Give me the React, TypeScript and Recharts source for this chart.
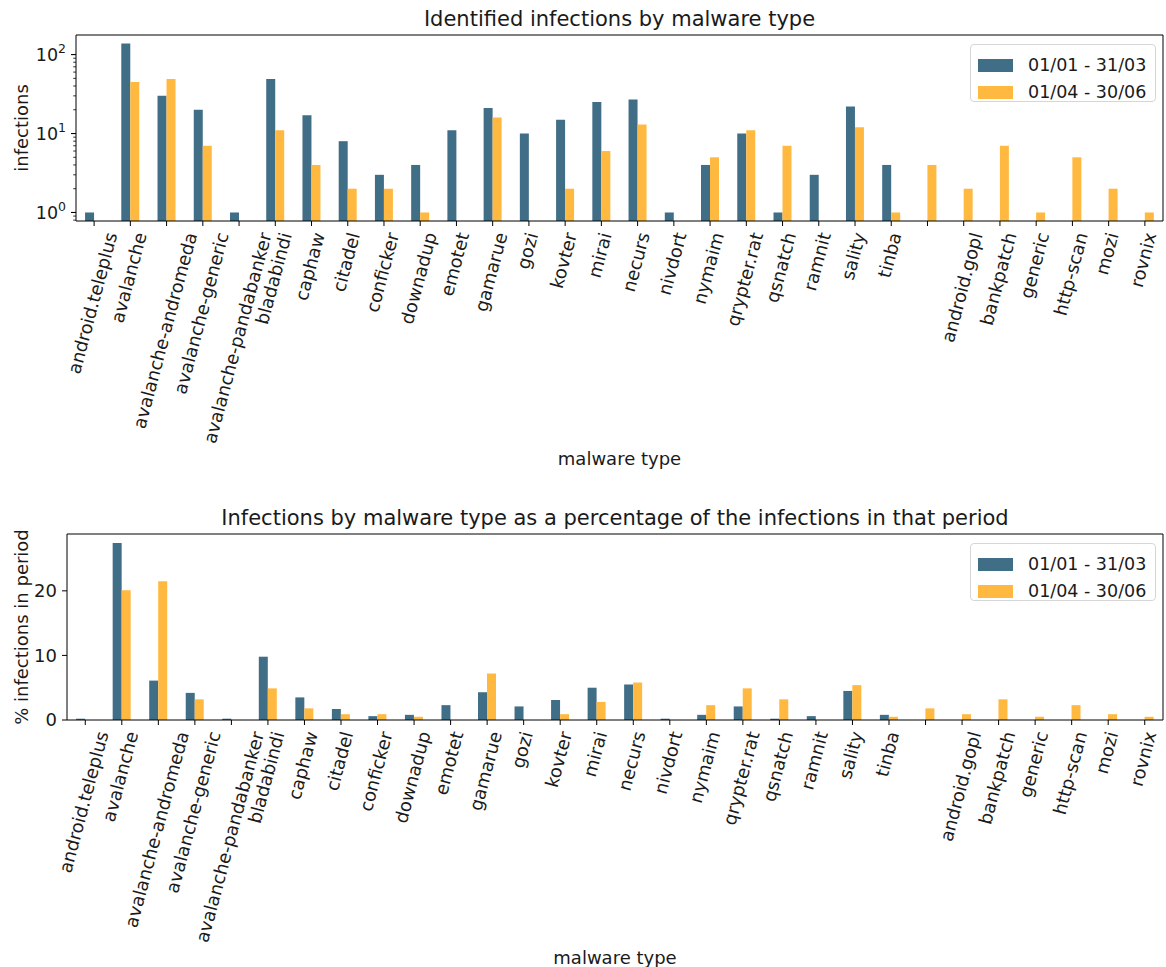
import React from "react";
import { BarChart, Bar, XAxis, YAxis, Legend, Label } from "recharts";

// malware families (the blank one is an unnamed family in the source data)
const malwareTypes = [
  "android.teleplus", "avalanche", "avalanche-andromeda", "avalanche-generic",
  "avalanche-pandabanker", "bladabindi", "caphaw", "citadel", "conficker",
  "downadup", "emotet", "gamarue", "gozi", "kovter", "mirai", "necurs",
  "nivdort", "nymaim", "qrypter.rat", "qsnatch", "ramnit", "sality", "tinba",
  "", "android.gopl", "bankpatch", "generic", "http-scan", "mozi", "rovnix",
];

const periods = ["01/01 - 31/03", "01/04 - 30/06"];

// number of infections
const countsQ1 = [1, 138, 30, 20, 1, 49, 17, 8, 3, 4, 11, 21, 10, 15, 25, 27, 1, 4, 10, 1, 3, 22, 4, 0, 0, 0, 0, 0, 0, 0];
const countsQ2 = [0, 45, 49, 7, 0, 11, 4, 2, 2, 1, 0, 16, 0, 2, 6, 13, 0, 5, 11, 7, 0, 12, 1, 4, 2, 7, 1, 5, 2, 1];

// % of infections in the period
const pctQ1 = [0.2, 27.4, 6.1, 4.2, 0.2, 9.8, 3.5, 1.7, 0.6, 0.8, 2.3, 4.3, 2.1, 3.1, 5.0, 5.5, 0.2, 0.8, 2.1, 0.2, 0.6, 4.5, 0.8, 0, 0, 0, 0, 0, 0, 0];
const pctQ2 = [0, 20.1, 21.5, 3.2, 0, 4.9, 1.8, 0.9, 0.9, 0.5, 0, 7.2, 0, 0.9, 2.8, 5.8, 0, 2.3, 4.9, 3.2, 0, 5.4, 0.5, 1.8, 0.9, 3.2, 0.5, 2.3, 0.9, 0.5];

const logTicks = [0.8, 0.9, 1, 2, 3, 4, 5, 6, 7, 8, 9, 10, 20, 30, 40, 50, 60, 70, 80, 90, 100];
const pctTicks = [0, 10, 20];

const BLUE = "#416E87";
const ORANGE = "#FFB940";
const INK = "#1a1a1a";
const FONT = "'DejaVu Sans', sans-serif";
const FS = 18;
const LEGEND_FS = 17.5;
const TITLE_FS = 21;

// log axis can't draw zeros -> leave them out
const countRows = malwareTypes.map((name, i) => ({
  name,
  q1: countsQ1[i] > 0 ? countsQ1[i] : null,
  q2: countsQ2[i] > 0 ? countsQ2[i] : null,
}));

const pctRows = malwareTypes.map((name, i) => ({
  name,
  q1: pctQ1[i],
  q2: pctQ2[i],
}));

let ctx: CanvasRenderingContext2D | null = null;
function textWidth(s: string) {
  if (!ctx) ctx = document.createElement("canvas").getContext("2d");
  if (!ctx) return s.length * FS * 0.56;
  ctx.font = `${FS}px "DejaVu Sans"`;
  return ctx.measureText(s).width;
}

// matplotlib style label: rotated 75deg, bbox centred under the tick
function RotatedTick(props: any) {
  const { x, y, payload } = props;
  const label = String(payload?.value ?? "");
  if (!label) return null;
  const len = textWidth(label);
  const asc = 0.76 * FS;
  const desc = 0.24 * FS;
  const px = x + (0.2588 * len + 0.9659 * (asc - desc)) / 2;
  const py = y + 5 + 0.2588 * asc;
  return (
    <text
      x={px}
      y={py}
      transform={`rotate(-75 ${px} ${py})`}
      textAnchor="end"
      fontSize={FS}
      fontFamily={FONT}
      fill={INK}
    >
      {label}
    </text>
  );
}

function LogTick(props: any) {
  const { x, y, payload } = props;
  const lg = Math.log10(payload.value);
  const e = Math.round(lg);
  const major = Math.abs(lg - e) < 1e-6;
  const len = major ? 5 : 2.8;
  return (
    <g>
      <line x1={x} x2={x - len} y1={y} y2={y} stroke="#000" strokeWidth={major ? 1.1 : 0.8} />
      {major && (
        <text x={x - 10} y={y} dy="0.36em" textAnchor="end" fontSize={17.5} fontFamily={FONT} fill={INK}>
          10
          <tspan dy={-8} fontSize={12.5}>
            {e}
          </tspan>
        </text>
      )}
    </g>
  );
}

const titleLabel = (text: string) => (props: any) => {
  const vb = props.viewBox;
  return (
    <text
      x={vb.x + vb.width / 2}
      y={vb.y + vb.height - 16}
      textAnchor="middle"
      dominantBaseline="central"
      fontSize={TITLE_FS}
      fontFamily={FONT}
      fill={INK}
    >
      {text}
    </text>
  );
};

const xLabel = (text: string) => (props: any) => {
  const vb = props.viewBox;
  return (
    <text
      x={vb.x + vb.width / 2}
      y={vb.y + 237}
      textAnchor="middle"
      dominantBaseline="central"
      fontSize={FS}
      fontFamily={FONT}
      fill={INK}
    >
      {text}
    </text>
  );
};

const yLabel = (text: string) => (props: any) => {
  const vb = props.viewBox;
  const cx = vb.x + 21;
  const cy = vb.y + vb.height / 2;
  return (
    <text
      x={cx}
      y={cy}
      transform={`rotate(-90 ${cx} ${cy})`}
      textAnchor="middle"
      dominantBaseline="central"
      fontSize={FS}
      fontFamily={FONT}
      fill={INK}
    >
      {text}
    </text>
  );
};

function LegendBox(props: any) {
  const items = props.payload || [];
  return (
    <div
      style={{
        width: 186,
        height: 58,
        boxSizing: "border-box",
        border: "1px solid #d6d6d6",
        borderRadius: 4,
        background: "rgba(255,255,255,0.8)",
        paddingTop: 7,
        fontFamily: FONT,
        fontSize: LEGEND_FS,
        color: INK,
      }}
    >
      {items.map((it: any) => (
        <div key={it.value} style={{ display: "flex", alignItems: "center", height: 27 }}>
          <div style={{ width: 35, height: 12.5, marginLeft: 7, marginRight: 15, background: it.color }} />
          <span style={{ lineHeight: 1 }}>{it.value}</span>
        </div>
      ))}
    </div>
  );
}

const frame = { stroke: "#000", strokeWidth: 1 };

export default function App() {
  return (
    <div
      style={{
        position: "absolute",
        left: 0,
        top: 0,
        width: 1166,
        height: 967,
        background: "#fff",
        fontFamily: FONT,
      }}
    >
      <div style={{ position: "absolute", left: 0, top: 0 }}>
        <BarChart
          width={1166}
          height={483}
          data={countRows}
          margin={{ top: 34, right: 2, left: 0, bottom: 0 }}
          barCategoryGap="25%"
          barGap={0}
        >
          <XAxis
            dataKey="name"
            interval={0}
            height={262}
            tick={<RotatedTick />}
            tickSize={5}
            tickMargin={0}
            tickLine={frame}
            axisLine={frame}
            label={<Label content={xLabel("malware type")} />}
          />
          <XAxis
            xAxisId="top"
            dataKey="name"
            orientation="top"
            height={1}
            tick={false}
            tickLine={false}
            axisLine={frame}
            label={<Label content={titleLabel("Identified infections by malware type")} />}
          />
          <YAxis
            type="number"
            scale="log"
            domain={[0.78, 177]}
            allowDataOverflow
            ticks={logTicks}
            interval={0}
            width={76}
            tick={<LogTick />}
            tickSize={0}
            tickMargin={0}
            tickLine={false}
            axisLine={frame}
            label={<Label content={yLabel("infections")} />}
          />
          <YAxis
            yAxisId="right"
            orientation="right"
            domain={[0, 1]}
            width={1}
            tick={false}
            tickLine={false}
            axisLine={frame}
          />
          <Legend
            layout="vertical"
            align="center"
            verticalAlign="middle"
            content={<LegendBox />}
            wrapperStyle={{ left: 970, top: 44, width: 186, height: 58 }}
          />
          <Bar dataKey="q1" name={periods[0]} fill={BLUE} isAnimationActive={false} />
          <Bar dataKey="q2" name={periods[1]} fill={ORANGE} isAnimationActive={false} />
        </BarChart>
      </div>

      <div style={{ position: "absolute", left: 0, top: 483 }}>
        <BarChart
          width={1166}
          height={484}
          data={pctRows}
          margin={{ top: 50, right: 2, left: 0, bottom: 0 }}
          barCategoryGap="25%"
          barGap={0}
        >
          <XAxis
            dataKey="name"
            interval={0}
            height={247}
            tick={<RotatedTick />}
            tickSize={5}
            tickMargin={0}
            tickLine={frame}
            axisLine={frame}
            label={<Label content={xLabel("malware type")} />}
          />
          <XAxis
            xAxisId="top"
            dataKey="name"
            orientation="top"
            height={1}
            tick={false}
            tickLine={false}
            axisLine={frame}
            label={
              <Label
                content={titleLabel(
                  "Infections by malware type as a percentage of the infections in that period"
                )}
              />
            }
          />
          <YAxis
            type="number"
            domain={[0, 28.8]}
            allowDataOverflow
            ticks={pctTicks}
            interval={0}
            width={67}
            tick={{ fontSize: FS, fontFamily: FONT, fill: INK }}
            tickSize={5}
            tickMargin={5}
            tickLine={frame}
            axisLine={frame}
            label={<Label content={yLabel("% infections in period")} />}
          />
          <YAxis
            yAxisId="right"
            orientation="right"
            domain={[0, 1]}
            width={1}
            tick={false}
            tickLine={false}
            axisLine={frame}
          />
          <Legend
            layout="vertical"
            align="center"
            verticalAlign="middle"
            content={<LegendBox />}
            wrapperStyle={{ left: 970, top: 60, width: 186, height: 58 }}
          />
          <Bar dataKey="q1" name={periods[0]} fill={BLUE} isAnimationActive={false} />
          <Bar dataKey="q2" name={periods[1]} fill={ORANGE} isAnimationActive={false} />
        </BarChart>
      </div>
    </div>
  );
}
